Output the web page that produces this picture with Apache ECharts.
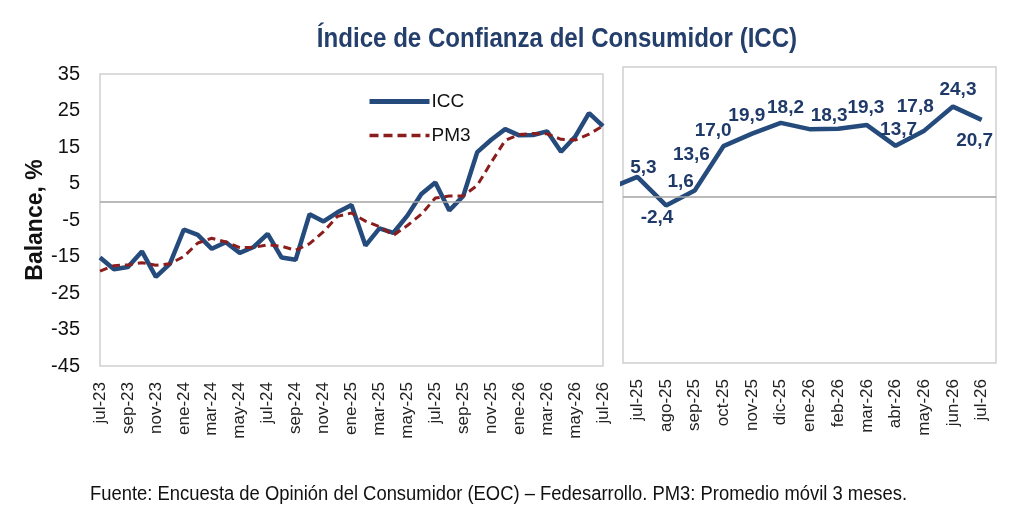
<!DOCTYPE html>
<html>
<head>
<meta charset="utf-8">
<script src="https://cdn.jsdelivr.net/npm/echarts@6.0.0/dist/echarts.min.js"></script>
<style>
  html, body { margin: 0; padding: 0; background: #fff; }
  #chart { width: 1024px; height: 509px; }
</style>
</head>
<body>
<div id="chart"></div>
<script>
// meses del panel izquierdo (jul-23 .. jul-26)
const months = [
    'jul-23', 'ago-23', 'sep-23', 'oct-23', 'nov-23', 'dic-23',
    'ene-24', 'feb-24', 'mar-24', 'abr-24', 'may-24', 'jun-24',
    'jul-24', 'ago-24', 'sep-24', 'oct-24', 'nov-24', 'dic-24',
    'ene-25', 'feb-25', 'mar-25', 'abr-25', 'may-25', 'jun-25',
    'jul-25', 'ago-25', 'sep-25', 'oct-25', 'nov-25', 'dic-25',
    'ene-26', 'feb-26', 'mar-26', 'abr-26', 'may-26', 'jun-26', 'jul-26'
];

// ICC mensual
const icc = [
    -15.3, -18.5, -17.9, -13.6, -20.6, -17.0,
    -7.6, -9.1, -12.9, -11.1, -14.0, -12.4,
    -8.8, -15.3, -15.9, -3.4, -5.4, -2.9,
    -0.9, -12.0, -7.3, -8.5, -3.8, 2.1,
    5.3, -2.4, 1.6, 13.6, 17.0, 19.9,
    18.2, 18.3, 19.3, 13.7, 17.8, 24.3, 20.7
];

// PM3: promedio movil 3 meses
const pm3 = [
    -19.0, -17.5, -17.3, -16.7, -17.4, -17.0,
    -15.0, -11.3, -10.0, -11.0, -12.6, -12.5,
    -11.8, -12.2, -13.3, -11.5, -8.2, -4.0,
    -3.1, -5.3, -6.8, -9.2, -6.5, -3.4,
    1.0, 1.6, 1.6, 4.5, 10.8, 16.8,
    18.4, 18.7, 18.6, 17.1, 16.9, 18.5, 20.8
];

// panel derecho: jul-25 .. jul-26 (el punto jun-25 queda recortado a la izquierda)
const rightMonths = [
    'jul-25', 'ago-25', 'sep-25', 'oct-25', 'nov-25', 'dic-25',
    'ene-26', 'feb-26', 'mar-26', 'abr-26', 'may-26', 'jun-26', 'jul-26'
];
const rightIcc = icc.slice(-14); // jun-25 .. jul-26

const yTicks = { min: -45, max: 35, interval: 10 };

// desplazamiento de cada etiqueta respecto al punto
const labelOffsets = [
    [6, -9], [-9, 12], [-14, -9], [-32, 9], [-39, -3], [-34, -7], [-24, -21],
    [-9, -13], [-1, -17], [3, -16], [-9, -24], [5, -17], [-7, 21]
];

const SANS = "'Liberation Sans', Arial, sans-serif";
const BLUE = '#254A7C';
const RED = '#8C1D1D';

const zeroLine = {
    silent: true,
    symbol: 'none',
    label: { show: false },
    lineStyle: { color: '#a3a3a3', type: 'solid', width: 1.5 },
    data: [{ yAxis: 0 }]
};

const rightData = rightIcc.map((v, i) => {
    const idx = i - 1;
    if (idx < 0) return { value: [idx, v], label: { show: false } };
    return { value: [idx, v], label: { show: true, offset: labelOffsets[idx] } };
});

const chart = echarts.init(document.getElementById('chart'));

chart.setOption({
    backgroundColor: '#fff',
    animation: false,
    legend: {
        data: [
            { name: 'ICC', lineStyle: { width: 5 } },
            { name: 'PM3', lineStyle: { width: 3.5, type: [9, 5] } }
        ],
        orient: 'vertical',
        left: 362,
        top: 87,
        itemWidth: 60,
        itemHeight: 14,
        itemGap: 15,
        selectedMode: false,
        itemStyle: { opacity: 0 },
        textStyle: { fontFamily: SANS, fontSize: 19, color: '#111', padding: [0, 0, 0, -3] }
    },
    graphic: [{
        type: 'text',
        x: 557,
        y: 39,
        scaleX: 0.86,
        style: {
            text: 'Índice de Confianza del Consumidor (ICC)',
            align: 'center',
            verticalAlign: 'middle',
            fontFamily: SANS,
            fontSize: 28,
            fontWeight: 'bold',
            fill: '#243F6B'
        }
    }, {
        type: 'text',
        x: 90,
        y: 494,
        scaleX: 0.92,
        style: {
            text: 'Fuente: Encuesta de Opinión del Consumidor (EOC) – Fedesarrollo. PM3: Promedio móvil 3 meses.',
            align: 'left',
            verticalAlign: 'middle',
            fontFamily: SANS,
            fontSize: 20,
            fill: '#111'
        }
    }],
    grid: [
        { left: 100, top: 74, width: 503, height: 292, show: true, borderColor: '#d0d0d0', borderWidth: 1.5 },
        { left: 623, top: 67, width: 373, height: 296, show: true, borderColor: '#d0d0d0', borderWidth: 1.5 }
    ],
    xAxis: [{
        gridIndex: 0,
        type: 'category',
        data: months,
        boundaryGap: false,
        axisLine: { show: false },
        axisTick: { show: false },
        axisLabel: {
            interval: 1,
            rotate: 90,
            margin: 16,
            fontFamily: SANS,
            fontSize: 17,
            color: '#222'
        }
    }, {
        gridIndex: 1,
        type: 'value',
        min: -0.5,
        max: 12.5,
        splitLine: { show: false },
        axisLine: { show: false },
        axisTick: { show: false },
        axisLabel: {
            customValues: rightMonths.map((m, i) => i),
            formatter: (v) => rightMonths[Math.round(v)] || '',
            rotate: 90,
            margin: 16,
            fontFamily: SANS,
            fontSize: 17,
            color: '#222'
        }
    }],
    yAxis: [{
        gridIndex: 0,
        type: 'value',
        min: yTicks.min,
        max: yTicks.max,
        interval: yTicks.interval,
        name: 'Balance, %',
        nameLocation: 'middle',
        nameGap: 53,
        nameRotate: 90,
        nameTextStyle: { fontFamily: SANS, fontSize: 23, fontWeight: 'bold', color: '#111' },
        splitLine: { show: false },
        axisLine: { show: false },
        axisTick: { show: false },
        axisLabel: { margin: 20, fontFamily: SANS, fontSize: 20, color: '#111' }
    }, {
        gridIndex: 1,
        type: 'value',
        min: yTicks.min,
        max: yTicks.max,
        interval: yTicks.interval,
        splitLine: { show: false },
        axisLine: { show: false },
        axisTick: { show: false },
        axisLabel: { show: false }
    }],
    series: [{
        name: 'ICC',
        type: 'line',
        xAxisIndex: 0,
        yAxisIndex: 0,
        data: icc,
        showSymbol: false,
        symbol: 'none',
        itemStyle: { color: BLUE },
        lineStyle: { color: BLUE, width: 4.5 },
        markLine: zeroLine,
        z: 3
    }, {
        name: 'PM3',
        type: 'line',
        xAxisIndex: 0,
        yAxisIndex: 0,
        data: pm3,
        showSymbol: false,
        symbol: 'none',
        itemStyle: { color: RED },
        lineStyle: { color: RED, width: 3, type: [8, 5] },
        z: 4
    }, {
        name: 'ICC',
        type: 'line',
        xAxisIndex: 1,
        yAxisIndex: 1,
        data: rightData,
        symbol: 'circle',
        symbolSize: 0.1,
        showSymbol: true,
        clip: true,
        itemStyle: { color: BLUE },
        lineStyle: { color: BLUE, width: 4.5 },
        label: {
            position: 'inside',
            fontFamily: SANS,
            fontSize: 19,
            fontWeight: 'bold',
            color: '#1F3A68',
            formatter: (p) => p.value[1].toFixed(1).replace('.', ',')
        },
        markLine: zeroLine,
        z: 3
    }]
});
</script>
</body>
</html>
